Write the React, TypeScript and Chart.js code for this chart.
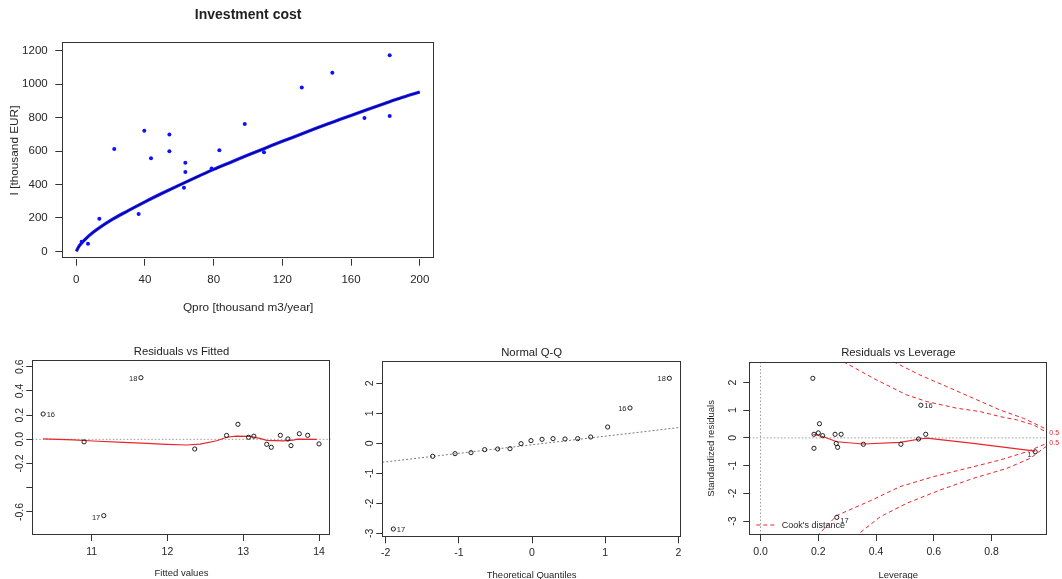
import React, { useEffect, useRef } from "react";
import { Chart, registerables } from "chart.js";

Chart.register(...registerables);

// ===================== DATA =====================
// Top panel: Investment cost
const invQ = [3.1, 6.8, 13.4, 22.1, 36.3, 39.6, 43.5, 54.2, 54.2, 62.7, 63.5, 63.5, 78.8, 83.3, 98.1, 109.3, 131.3, 149.1, 167.8, 182.5, 182.5];
const invI = [58, 46, 195, 612, 223, 721, 556, 698, 598, 381, 530, 474, 496, 604, 761, 592, 979, 1068, 797, 1172, 809];
const fitQ = [0, 1, 2, 5, 10, 20, 30, 40, 50, 60, 70, 80, 90, 100, 110, 120, 130, 140, 150, 160, 170, 180, 190, 200];
const fitI = [0, 20, 36, 70, 115, 185, 242, 296, 347, 396, 444, 490, 533, 576, 617, 658, 697, 737, 775, 813, 850, 886, 921, 953];
const invXTicks = [0, 40, 80, 120, 160, 200];
const invXTickLabels = ["0", "40", "80", "120", "160", "200"];
const invYTicks = [0, 200, 400, 600, 800, 1000, 1200];
const invYTickLabels = ["0", "200", "400", "600", "800", "1000", "1200"];

// Residuals vs Fitted
const rvfX = [10.36, 10.9, 11.16, 11.65, 12.36, 12.78, 12.93, 13.07, 13.14, 13.31, 13.37, 13.49, 13.59, 13.63, 13.74, 13.85, 14.0];
const rvfY = [0.209, -0.021, -0.63, 0.509, -0.08, 0.032, 0.124, 0.017, 0.026, -0.041, -0.066, 0.033, 0.003, -0.052, 0.046, 0.033, -0.038];
const rvfLabelIdx = [0, 2, 3];
const rvfLabelTxt = ["16", "17", "18"];
const rvfSmoothX = [10.36, 10.76, 11.02, 11.42, 11.73, 11.99, 12.25, 12.43, 12.65, 12.78, 12.91, 13.09, 13.22, 13.31, 13.53, 13.66, 13.71, 13.97];
const rvfSmoothY = [0.004, -0.004, -0.014, -0.025, -0.033, -0.041, -0.047, -0.039, -0.012, 0.017, 0.027, 0.025, 0.008, -0.008, -0.012, -0.006, 0.002, 0.0];
const rvfXTicks = [11, 12, 13, 14];
const rvfXTickLabels = ["11", "12", "13", "14"];
const rvfYTicks = [-0.6, -0.4, -0.2, 0, 0.2, 0.4, 0.6];
const rvfYTickLabels = ["-0.6", "", "-0.2", "0.0", "0.2", "0.4", "0.6"];

// Normal Q-Q
const qqX = [-1.895, -1.358, -1.052, -0.834, -0.647, -0.469, -0.301, -0.15, -0.014, 0.137, 0.287, 0.451, 0.624, 0.802, 1.034, 1.339, 1.877];
const qqY = [-2.856, -0.433, -0.344, -0.311, -0.211, -0.189, -0.178, -0.011, 0.089, 0.133, 0.156, 0.144, 0.156, 0.211, 0.544, 1.178, 2.167];
const qqLabelIdx = [0, 15, 16];
const qqLabelTxt = ["17", "16", "18"];
const qqLineX = [-2.046, 2.036];
const qqLineY = [-0.633, 0.533];
const qqXTicks = [-2, -1, 0, 1, 2];
const qqXTickLabels = ["-2", "-1", "0", "1", "2"];
const qqYTicks = [-3, -2, -1, 0, 1, 2];
const qqYTickLabels = ["-3", "-2", "-1", "0", "1", "2"];

// Residuals vs Leverage
const levX = [0.181, 0.185, 0.185, 0.2, 0.204, 0.215, 0.258, 0.262, 0.267, 0.279, 0.264, 0.356, 0.486, 0.547, 0.555, 0.572, 0.951];
const levY = [2.15, 0.13, -0.375, 0.18, 0.51, 0.08, 0.13, -0.2, -0.34, 0.13, -2.87, -0.23, -0.23, -0.04, 1.18, 0.13, -0.5];
const levLabelIdx = [14, 10, 16];
const levLabelTxt = ["16", "17", "1"];
const levSmoothX = [0.183, 0.218, 0.264, 0.356, 0.483, 0.552, 0.576, 0.737, 0.951];
const levSmoothY = [0.13, 0.04, -0.14, -0.22, -0.16, -0.04, -0.01, -0.2, -0.48];
const cookUpInX = [0.287, 0.391, 0.506, 0.576, 0.68, 0.76, 0.829, 0.887, 0.945, 0.993];
const cookUpInY = [2.75, 2.15, 1.55, 1.31, 1.07, 0.95, 0.77, 0.65, 0.47, 0.19];
const cookUpOutX = [0.46, 0.552, 0.645, 0.737, 0.829, 0.91, 0.993];
const cookUpOutY = [2.75, 2.27, 1.85, 1.43, 1.01, 0.71, 0.3];
const cookLoInX = [0.195, 0.264, 0.38, 0.483, 0.598, 0.737, 0.829, 0.922, 0.993];
const cookLoInY = [-3.55, -2.8, -2.27, -1.76, -1.4, -1.04, -0.8, -0.5, -0.19];
const cookLoOutX = [0.327, 0.414, 0.506, 0.622, 0.737, 0.853, 0.933, 0.993];
const cookLoOutY = [-3.57, -2.85, -2.36, -1.88, -1.46, -1.1, -0.74, -0.28];
const cookLabelTxt = ["0.5", "0.5"];
const cookLabelY = [0.19, -0.19];
const levXTicks = [0, 0.2, 0.4, 0.6, 0.8];
const levXTickLabels = ["0.0", "0.2", "0.4", "0.6", "0.8"];
const levYTicks = [-3, -2, -1, 0, 1, 2];
const levYTickLabels = ["-3", "-2", "-1", "0", "1", "2"];

// ===================== STYLE / LAYOUT =====================
const FAMILY = '"Liberation Sans", Arial, Helvetica, sans-serif';
const INK = "#262626";
const RED = "#e8262c";
const GRAY = "#9a9a9a";

type Axis = {
  min: number;
  max: number;
  ticks: number[];
  labels: string[];
  tl: number;
  fontSize: number;
  labelPos: number;
  rotated?: boolean;
  title?: string;
  titleSize?: number;
  titlePos?: number;
};

type Frame = {
  cx: number; cy: number; cw: number; ch: number;
  L: number; T: number; R: number; B: number;
  title: string; titleSize: number; titleBold: boolean; titleY: number;
};

let mctx: CanvasRenderingContext2D | null = null;
function textWidth(t: string, size: number): number {
  if (!mctx) mctx = document.createElement("canvas").getContext("2d");
  mctx!.font = `normal ${size}px ${FAMILY}`;
  return mctx!.measureText(t).width;
}

function pts(xs: number[], ys: number[]) {
  return xs.map((x, i) => ({ x, y: ys[i] }));
}

function drawPointLabels(chart: any, xs: number[], ys: number[], idx: number[], txt: string[], sides: number[], dys: number[], size: number) {
  const { ctx, scales } = chart;
  ctx.save();
  ctx.font = `${size}px ${FAMILY}`;
  ctx.fillStyle = INK;
  ctx.textBaseline = "middle";
  idx.forEach((k, j) => {
    const px = scales.x.getPixelForValue(xs[k]);
    const py = scales.y.getPixelForValue(ys[k]);
    const s = sides[j];
    ctx.textAlign = s < 0 ? "right" : "left";
    ctx.fillText(txt[j], px + s * 3.5, py + dys[j]);
  });
  ctx.restore();
}

function buildConfig(f: Frame, xa: Axis, ya: Axis, datasets: any[], extra?: (c: any) => void): any {
  const xH = f.cy + f.ch - f.B;
  const yW = f.L - f.cx;
  const xLh = xa.fontSize * 1.2;
  const xPad = (xa.labelPos - f.B) - xa.tl - xLh / 2;
  let yPad: number;
  if (ya.rotated) {
    const widest = Math.max(...ya.labels.map((l) => textWidth(l, ya.fontSize)));
    yPad = (f.L - f.cx) - ya.tl - widest / 2 - (ya.labelPos - f.cx);
  } else {
    yPad = (f.L - f.cx) - ya.tl - (ya.labelPos - f.cx);
  }
  const tLh = f.titleSize * 1.2;
  const tPadTop = (f.titleY - f.cy) - tLh / 2;
  const tPadBottom = (f.T - f.cy) - tLh - tPadTop;

  const gridOpts = (tl: number) => ({
    display: true,
    drawOnChartArea: false,
    drawTicks: true,
    tickLength: tl,
    color: "#333",
    tickColor: "#333",
    lineWidth: 1,
  });

  const xTitle = xa.title
    ? {
        display: true,
        text: xa.title,
        color: INK,
        font: { family: FAMILY, size: xa.titleSize },
        padding: { top: 0, bottom: (f.cy + f.ch) - (xa.titlePos as number) - ((xa.titleSize as number) * 1.2) / 2 },
      }
    : { display: false };
  const yTitle = ya.title
    ? {
        display: true,
        text: ya.title,
        color: INK,
        font: { family: FAMILY, size: ya.titleSize },
        padding: { top: ((ya.titlePos as number) - f.cx) - ((ya.titleSize as number) * 1.2) / 2, bottom: 0 },
      }
    : { display: false };

  const framePlugin = {
    id: "rframe",
    afterDraw(chart: any) {
      const { ctx, chartArea: a } = chart;
      ctx.save();
      ctx.strokeStyle = "#333";
      ctx.lineWidth = 1;
      ctx.strokeRect(Math.round(a.left) + 0.5, Math.round(a.top) + 0.5, Math.round(a.right - a.left) - 1, Math.round(a.bottom - a.top) - 1);
      ctx.restore();
      if (extra) extra(chart);
    },
  };

  return {
    type: "scatter",
    data: { datasets },
    plugins: [framePlugin],
    options: {
      responsive: false,
      animation: false,
      events: [],
      layout: { padding: { left: 0, top: 0, right: f.cx + f.cw - f.R, bottom: 0 } },
      plugins: {
        legend: { display: false },
        tooltip: { enabled: false },
        title: {
          display: true,
          text: f.title,
          fullSize: false,
          color: "#222",
          font: { family: FAMILY, size: f.titleSize, weight: f.titleBold ? "bold" : "normal" },
          padding: { top: tPadTop, bottom: tPadBottom },
        },
      },
      scales: {
        x: {
          type: "linear",
          position: "bottom",
          min: xa.min,
          max: xa.max,
          bounds: "data",
          afterBuildTicks: (s: any) => {
            s.ticks = xa.ticks.map((v) => ({ value: v }));
          },
          afterFit: (s: any) => {
            s.height = xH;
          },
          ticks: {
            autoSkip: false,
            minRotation: 0,
            maxRotation: 0,
            padding: xPad,
            color: INK,
            font: { family: FAMILY, size: xa.fontSize },
            callback: (_v: any, i: number) => xa.labels[i],
          },
          grid: gridOpts(xa.tl),
          border: { display: false },
          title: xTitle,
        },
        y: {
          type: "linear",
          position: "left",
          min: ya.min,
          max: ya.max,
          bounds: "data",
          afterBuildTicks: (s: any) => {
            s.ticks = ya.ticks.map((v) => ({ value: v }));
          },
          afterFit: (s: any) => {
            s.width = yW;
          },
          ticks: {
            autoSkip: false,
            minRotation: ya.rotated ? 90 : 0,
            maxRotation: ya.rotated ? 90 : 0,
            crossAlign: ya.rotated ? "center" : "near",
            padding: yPad,
            color: INK,
            font: { family: FAMILY, size: ya.fontSize },
            callback: (_v: any, i: number) => ya.labels[i],
          },
          grid: gridOpts(ya.tl),
          border: { display: false },
          title: yTitle,
        },
      },
    },
  };
}

const openPoints = (xs: number[], ys: number[]) => ({
  data: pts(xs, ys),
  showLine: false,
  pointRadius: 2.1,
  pointStyle: "circle",
  pointBackgroundColor: "rgba(0,0,0,0)",
  pointBorderColor: "#1e1e1e",
  pointBorderWidth: 1,
});

const lineSet = (xs: number[], ys: number[], color: string, width: number, dash: number[] = []) => ({
  data: pts(xs, ys),
  showLine: true,
  pointRadius: 0,
  borderColor: color,
  borderWidth: width,
  borderDash: dash,
  fill: false,
  clip: 0,
});

// ===================== PANELS =====================
const topFrame: Frame = { cx: 0, cy: 0, cw: 460, ch: 322, L: 62.3, T: 42.3, R: 434, B: 258.7, title: "Investment cost", titleSize: 14, titleBold: true, titleY: 15 };
const rvfFrame: Frame = { cx: 0, cy: 335, cw: 345, ch: 244, L: 32.3, T: 360, R: 330.7, B: 535, title: "Residuals vs Fitted", titleSize: 11.3, titleBold: false, titleY: 351.7 };
const qqFrame: Frame = { cx: 345, cy: 335, cw: 355, ch: 244, L: 382.3, T: 361, R: 681, B: 537.3, title: "Normal Q-Q", titleSize: 11.3, titleBold: false, titleY: 352.7 };
const levFrame: Frame = { cx: 700, cy: 335, cw: 362, ch: 244, L: 749.3, T: 361.7, R: 1047.3, B: 535, title: "Residuals vs Leverage", titleSize: 11.3, titleBold: false, titleY: 352.7 };

function topConfig() {
  return buildConfig(
    topFrame,
    { min: -8.15, max: 208.3, ticks: invXTicks, labels: invXTickLabels, tl: 7, fontSize: 11.5, labelPos: 280, title: "Qpro [thousand m3/year]", titleSize: 11.8, titlePos: 307.3 },
    { min: -44, max: 1250, ticks: invYTicks, labels: invYTickLabels, tl: 7, fontSize: 11.5, labelPos: 47.7, title: "I [thousand EUR]", titleSize: 11.8, titlePos: 15 },
    [
      {
        data: pts(invQ, invI),
        showLine: false,
        pointRadius: 2,
        pointBackgroundColor: "#1010ff",
        pointBorderColor: "#1010ff",
        pointBorderWidth: 0,
      },
      { ...lineSet(fitQ, fitI, "#00008a", 1.2), cubicInterpolationMode: "monotone" },
      { ...lineSet(fitQ, fitI, "#1a1aff", 3.2), cubicInterpolationMode: "monotone" },
    ]
  );
}

function rvfConfig() {
  return buildConfig(
    rvfFrame,
    { min: 10.217, max: 14.154, ticks: rvfXTicks, labels: rvfXTickLabels, tl: 6, fontSize: 10.5, labelPos: 551.7, title: "Fitted values", titleSize: 9.5, titlePos: 573.3 },
    { min: -0.79, max: 0.655, ticks: rvfYTicks, labels: rvfYTickLabels, tl: 6, fontSize: 10.5, labelPos: 20, rotated: true },
    [
      openPoints(rvfX, rvfY),
      lineSet(rvfSmoothX, rvfSmoothY, RED, 1.2),
      lineSet([10.217, 14.154], [0, 0], GRAY, 1, [1.5, 2]),
    ],
    (c) => drawPointLabels(c, rvfX, rvfY, rvfLabelIdx, rvfLabelTxt, [1, -1, -1], [1, 2, 1], 7.5)
  );
}

function qqConfig() {
  return buildConfig(
    qqFrame,
    { min: -2.046, max: 2.036, ticks: qqXTicks, labels: qqXTickLabels, tl: 6, fontSize: 10.5, labelPos: 553.3, title: "Theoretical Quantiles", titleSize: 9.5, titlePos: 575 },
    { min: -3.133, max: 2.744, ticks: qqYTicks, labels: qqYTickLabels, tl: 6, fontSize: 10.5, labelPos: 370, rotated: true },
    [openPoints(qqX, qqY), lineSet(qqLineX, qqLineY, "#7a7a7a", 1, [2, 2])],
    (c) => drawPointLabels(c, qqX, qqY, qqLabelIdx, qqLabelTxt, [1, -1, -1], [1, 1, 1], 7.5)
  );
}

function levConfig() {
  return buildConfig(
    levFrame,
    { min: -0.039, max: 0.993, ticks: levXTicks, labels: levXTickLabels, tl: 6, fontSize: 10.5, labelPos: 552, title: "Leverage", titleSize: 9.5, titlePos: 575 },
    { min: -3.505, max: 2.75, ticks: levYTicks, labels: levYTickLabels, tl: 6, fontSize: 10.5, labelPos: 733.3, rotated: true, title: "Standardized residuals", titleSize: 9.5, titlePos: 711.7 },
    [
      openPoints(levX, levY),
      lineSet(levSmoothX, levSmoothY, RED, 1.2),
      lineSet(cookUpInX, cookUpInY, RED, 1, [4, 3]),
      lineSet(cookUpOutX, cookUpOutY, RED, 1, [4, 3]),
      lineSet(cookLoInX, cookLoInY, RED, 1, [4, 3]),
      lineSet(cookLoOutX, cookLoOutY, RED, 1, [4, 3]),
      lineSet([-0.039, 0.993], [0, 0], GRAY, 1, [1.5, 2]),
      lineSet([0, 0], [-3.505, 2.75], GRAY, 1, [1.5, 2]),
    ],
    (c) => {
      drawPointLabels(c, levX, levY, levLabelIdx, levLabelTxt, [1, 1, -1], [1, 4, 3], 7.5);
      const { ctx, chartArea: a, scales } = c;
      ctx.save();
      const ly = a.bottom - 10;
      ctx.strokeStyle = RED;
      ctx.lineWidth = 1;
      ctx.setLineDash([4, 3]);
      ctx.beginPath();
      ctx.moveTo(a.left + 7, ly);
      ctx.lineTo(a.left + 28, ly);
      ctx.stroke();
      ctx.setLineDash([]);
      ctx.font = `9px ${FAMILY}`;
      ctx.fillStyle = INK;
      ctx.textAlign = "left";
      ctx.textBaseline = "middle";
      ctx.fillText("Cook's distance", a.left + 32.5, ly + 1);
      ctx.fillStyle = RED;
      ctx.font = `7px ${FAMILY}`;
      cookLabelY.forEach((v, i) => ctx.fillText(cookLabelTxt[i], a.right + 2, scales.y.getPixelForValue(v)));
      ctx.restore();
    }
  );
}

function Panel({ frame, make }: { frame: Frame; make: () => any }) {
  const ref = useRef<HTMLCanvasElement>(null);
  useEffect(() => {
    const chart = new Chart(ref.current as HTMLCanvasElement, make());
    return () => chart.destroy();
  }, []);
  return (
    <canvas
      ref={ref}
      width={frame.cw}
      height={frame.ch}
      style={{ position: "absolute", left: frame.cx, top: frame.cy, width: frame.cw, height: frame.ch, display: "block" }}
    />
  );
}

export default function App() {
  useEffect(() => {
    document.body.style.margin = "0";
    document.body.style.overflow = "hidden";
  }, []);
  return (
    <div style={{ position: "fixed", left: 0, top: 0, width: 1062, height: 579, background: "#ffffff", overflow: "hidden" }}>
      <Panel frame={topFrame} make={topConfig} />
      <Panel frame={rvfFrame} make={rvfConfig} />
      <Panel frame={qqFrame} make={qqConfig} />
      <Panel frame={levFrame} make={levConfig} />
    </div>
  );
}
